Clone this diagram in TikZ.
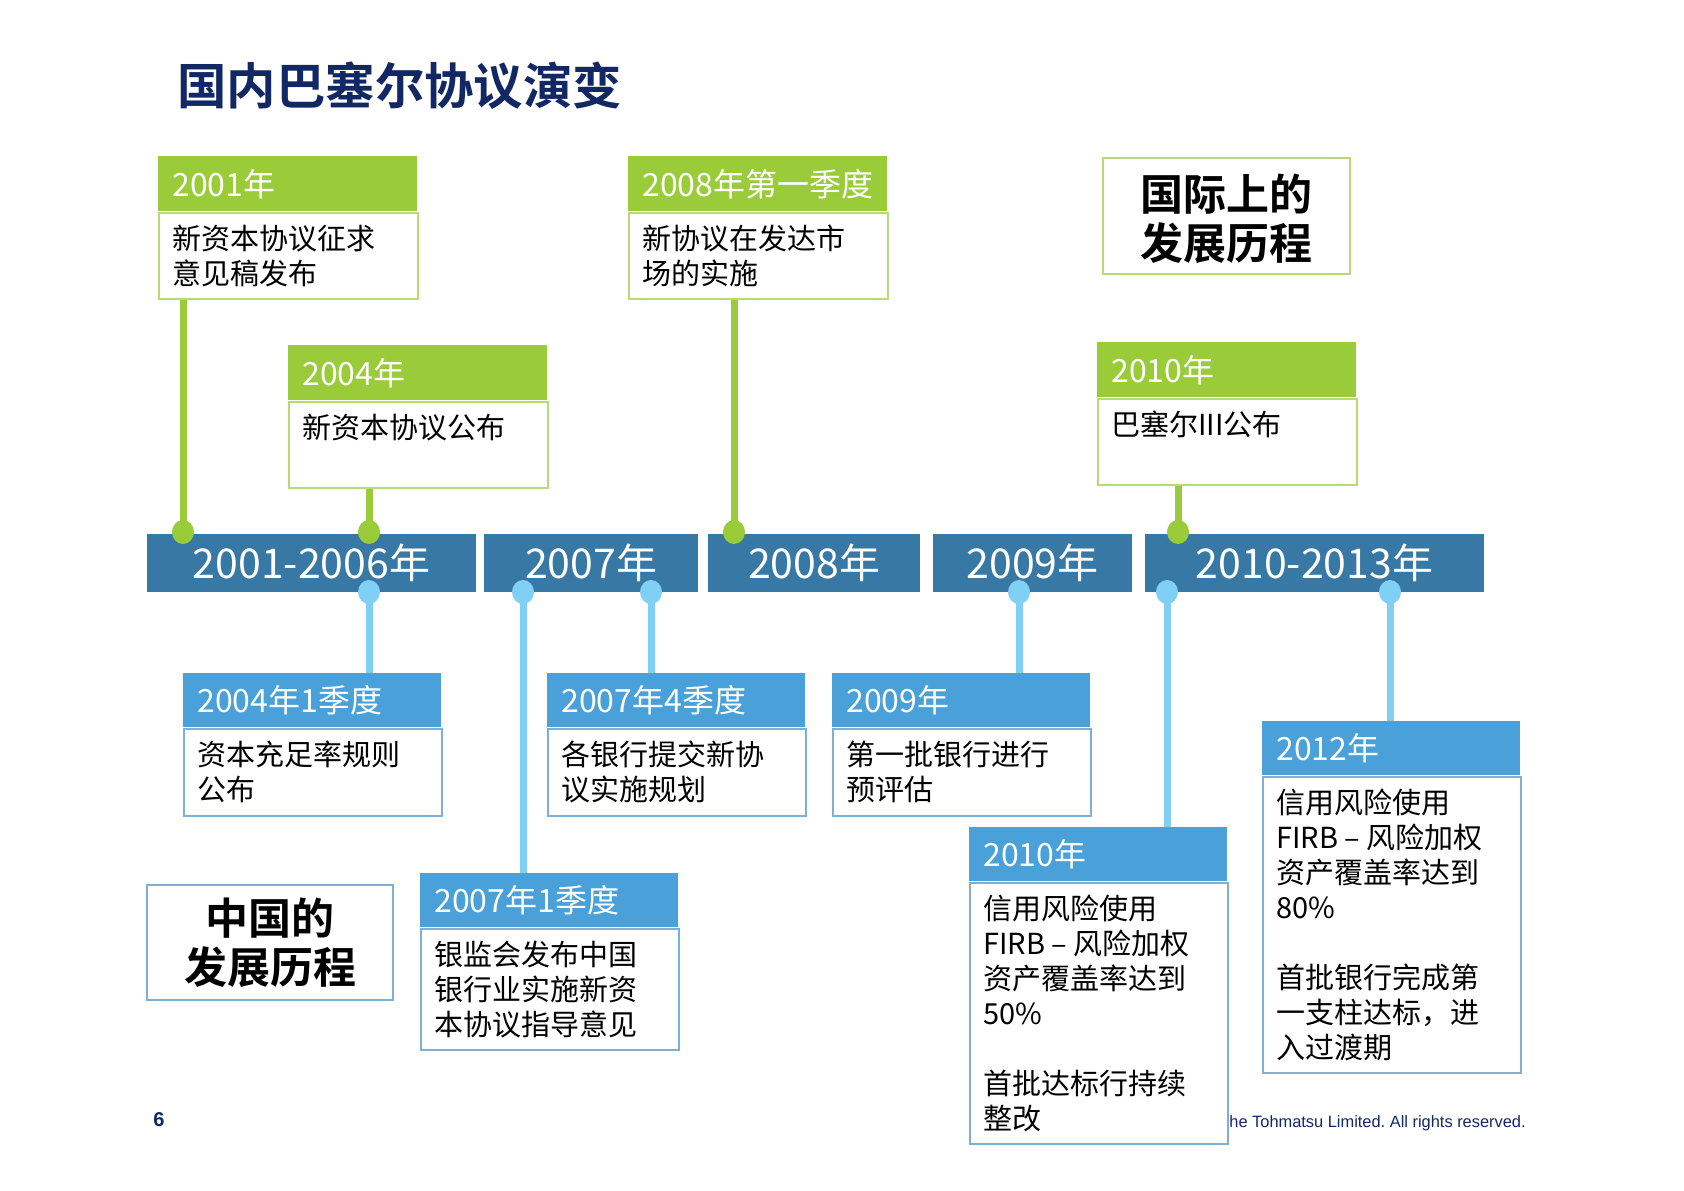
\documentclass[tikz,border=0pt]{standalone}
\usepackage{fontspec}
\setmainfont{Noto Sans CJK SC}[BoldFont={Noto Sans CJK SC Bold}]
\newfontfamily\arialfont{Liberation Sans}
\usepackage{tikz}
\usetikzlibrary{shapes.geometric}
\frenchspacing

\definecolor{grn}{RGB}{154,204,58}
\definecolor{grnline}{RGB}{182,218,116}
\definecolor{barblue}{RGB}{56,120,164}
\definecolor{headblue}{RGB}{74,160,216}
\definecolor{skyblue}{RGB}{128,208,246}
\definecolor{boxline}{RGB}{125,175,215}
\definecolor{navy}{RGB}{18,40,100}

\begin{document}
\begin{tikzpicture}[x=1pt,y=-1pt,
    ghead/.style={anchor=north west,fill=grn,text=white,align=left,
        font=\fontsize{16}{18}\selectfont,text width=115.5pt,inner xsep=7pt,minimum height=27.5pt},
    bhead/.style={ghead,fill=headblue,text width=115pt,minimum height=27pt},
    gbody/.style={anchor=north west,draw=grnline,line width=1pt,inner sep=0pt,minimum width=129.5pt},
    bbody/.style={gbody,draw=boxline,minimum width=129pt},
    bodytext/.style={anchor=north west,align=left,inner xsep=7pt,inner ysep=6.5pt,
        font=\fontsize{14.5}{17.5}\selectfont},
    yearbar/.style={fill=barblue,text=white,inner sep=0pt,minimum height=29pt,
        font=\fontsize{20.5}{24}\selectfont},
    gdot/.style={ellipse,fill=grn,inner sep=0pt,minimum width=11pt,minimum height=12pt},
    bdot/.style={gdot,fill=skyblue},
    gstem/.style={grn,line width=3.5pt},
    bstem/.style={skyblue,line width=3.5pt},
    tagbox/.style={line width=1pt,align=center,font=\bfseries\fontsize{21.5}{24.5}\selectfont}]
    \useasboundingbox (0,0) rectangle (842,595);

    % Title
    \node[anchor=west,inner sep=0pt,text=navy,font=\bfseries\fontsize{24.7}{28}\selectfont]
        (title) at (88.5,43) {国内巴塞尔协议演变};

    % Timeline bars
    \node[yearbar,minimum width=164.5pt] (bar1) at (155.75,281.5) {2001-2006年};
    \node[yearbar,minimum width=107pt] (bar2) at (295.5,281.5) {2007年};
    \node[yearbar,minimum width=106pt] (bar3) at (407,281.5) {2008年};
    \node[yearbar,minimum width=99.5pt] (bar4) at (516.25,281.5) {2009年};
    \node[yearbar,minimum width=169.5pt] (bar5) at (657.25,281.5) {2010-2013年};

    % Dot positions on the bars
    \foreach \n/\x in {gp1/91.5,gp2/184.5,gp3/367,gp4/589}
        \coordinate (\n) at (\x,266);
    \foreach \n/\x in {bp1/184.5,bp2/261.5,bp3/325.5,bp4/509.5,bp5/583.5,bp6/695}
        \coordinate (\n) at (\x,296);

    % International events (green)
    \node[ghead] (h2001) at (79,78) {2001年};
    \node[gbody,minimum height=43pt] (b2001) at (h2001.south west) {};
    \node[bodytext] (t2001) at (b2001.north west) {新资本协议征求\\意见稿发布};

    \node[ghead] (h2004) at (144,172.5) {2004年};
    \node[gbody,minimum height=43pt] (b2004) at (h2004.south west) {};
    \node[bodytext] (t2004) at (b2004.north west) {新资本协议公布};

    \node[ghead] (h2008) at (314,78) {2008年第一季度};
    \node[gbody,minimum height=43pt] (b2008) at (h2008.south west) {};
    \node[bodytext] (t2008) at (b2008.north west) {新协议在发达市\\场的实施};

    \node[ghead] (h2010) at (548.5,171) {2010年};
    \node[gbody,minimum height=43pt] (b2010) at (h2010.south west) {};
    \node[bodytext] (t2010) at (b2010.north west) {巴塞尔III公布};

    \node[tagbox,draw=grnline,minimum width=123.5pt,minimum height=58pt] (intl) at (613.25,108) {};
    \node[tagbox] (intltext) at (613.25,109.5) {国际上的\\发展历程};

    % Domestic events (blue)
    \node[bhead] (h04q1) at (91.5,336.5) {2004年1季度};
    \node[bbody,minimum height=43.5pt] (b04q1) at (h04q1.south west) {};
    \node[bodytext] (t04q1) at (b04q1.north west) {资本充足率规则\\公布};

    \node[bhead] (h07q4) at (273.5,336.5) {2007年4季度};
    \node[bbody,minimum height=43.5pt] (b07q4) at (h07q4.south west) {};
    \node[bodytext] (t07q4) at (b07q4.north west) {各银行提交新协\\议实施规划};

    \node[bhead] (h09) at (416,336.5) {2009年};
    \node[bbody,minimum height=43.5pt] (b09) at (h09.south west) {};
    \node[bodytext] (t09) at (b09.north west) {第一批银行进行\\预评估};

    \node[bhead] (h07q1) at (210,436.5) {2007年1季度};
    \node[bbody,minimum height=60.5pt] (b07q1) at (h07q1.south west) {};
    \node[bodytext] (t07q1) at (b07q1.north west) {银监会发布中国\\银行业实施新资\\本协议指导意见};

    \node[bhead] (h10) at (484.5,413.5) {2010年};
    \node[bbody,minimum height=130.5pt] (b10) at (h10.south west) {};
    \node[bodytext] (t10) at (b10.north west)
        {信用风险使用\\FIRB – 风险加权\\资产覆盖率达到\\50\%\\[17.5pt]首批达标行持续\\整改};

    \node[bhead] (h12) at (631,360.5) {2012年};
    \node[bbody,minimum height=148pt] (b12) at (h12.south west) {};
    \node[bodytext] (t12) at (b12.north west)
        {信用风险使用\\FIRB – 风险加权\\资产覆盖率达到\\80\%\\[17.5pt]首批银行完成第\\一支柱达标，进\\入过渡期};

    \node[tagbox,draw=boxline,minimum width=123pt,minimum height=57.5pt] (china) at (135,471.25) {};
    \node[tagbox] (chinatext) at (135,471.25) {中国的\\发展历程};

    % Stems
    \draw[gstem] (b2001.south -| gp1) -- (gp1);
    \draw[gstem] (b2004.south -| gp2) -- (gp2);
    \draw[gstem] (b2008.south -| gp3) -- (gp3);
    \draw[gstem] (b2010.south -| gp4) -- (gp4);
    \draw[bstem] (bp1) -- (bp1 |- h04q1.north);
    \draw[bstem] (bp2) -- (bp2 |- h07q1.north);
    \draw[bstem] (bp3) -- (bp3 |- h07q4.north);
    \draw[bstem] (bp4) -- (bp4 |- h09.north);
    \draw[bstem] (bp5) -- (bp5 |- h10.north);
    \draw[bstem] (bp6) -- (bp6 |- h12.north);

    % Dots
    \foreach \n in {gp1,gp2,gp3,gp4}
        \node[gdot] (\n dot) at (\n) {};
    \foreach \n in {bp1,bp2,bp3,bp4,bp5,bp6}
        \node[bdot] (\n dot) at (\n) {};

    % Footer
    \node[text=navy,inner sep=0pt,font=\arialfont\bfseries\fontsize{10}{12}\selectfont] (pagenum) at (79.5,560) {6};
    \node[anchor=west,inner sep=0pt,text=navy,font=\arialfont\fontsize{8.2}{10}\selectfont]
        (rights) at (b10.east |- 0,561.5) {he Tohmatsu Limited. All rights reserved.};
\end{tikzpicture}
\end{document}
